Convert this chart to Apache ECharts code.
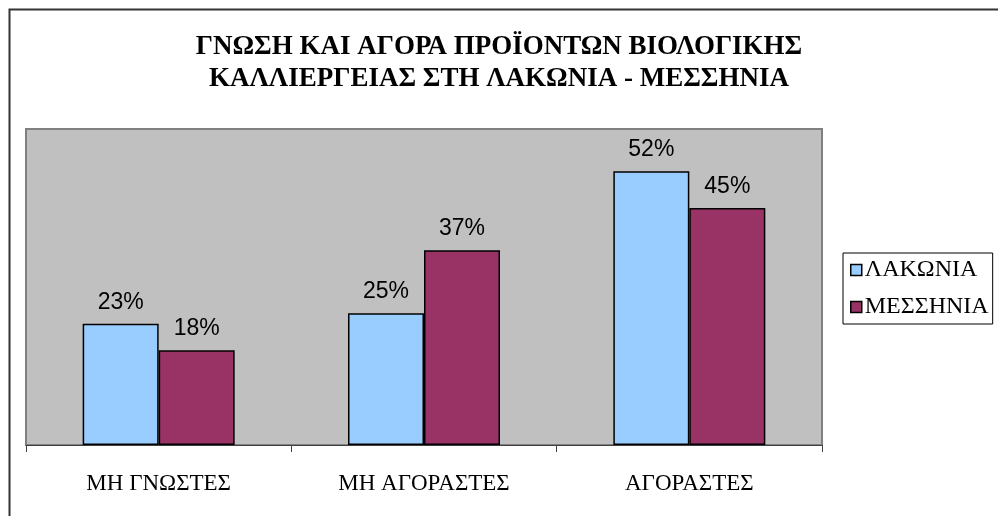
<!DOCTYPE html>
<html>
<head>
<meta charset="utf-8">
<script src="https://cdn.jsdelivr.net/npm/echarts@6/dist/echarts.min.js"></script>
<style>
  html, body { margin: 0; padding: 0; background: #fff; }
  #chart { width: 998px; height: 516px; }
</style>
</head>
<body>
<div id="chart"></div>
<script>
// categories and values (percent)
const categories = ['ΜΗ ΓΝΩΣΤΕΣ', 'ΜΗ ΑΓΟΡΑΣΤΕΣ', 'ΑΓΟΡΑΣΤΕΣ']
const lakonia = [23, 25, 52]
const messinia = [18, 37, 45]
const seriesNames = ['ΛΑΚΩΝΙΑ', 'ΜΕΣΣΗΝΙΑ']

const chart = echarts.init(document.getElementById('chart'))

const serif = 'Liberation Serif, Times New Roman, serif'
const sans = 'Liberation Sans, Arial, sans-serif'

const labelStyle = {
  show: true,
  position: 'top',
  distance: 10,
  formatter: '{c}%',
  fontFamily: sans,
  fontSize: 23,
  color: '#000'
}

const option = {
  animation: false,
  backgroundColor: '#fff',
  title: {
    text: 'ΓΝΩΣΗ ΚΑΙ ΑΓΟΡΑ ΠΡΟΪΟΝΤΩΝ ΒΙΟΛΟΓΙΚΗΣ\nΚΑΛΛΙΕΡΓΕΙΑΣ ΣΤΗ ΛΑΚΩΝΙΑ - ΜΕΣΣΗΝΙΑ',
    left: 'center',
    top: 26,
    textStyle: {
      fontFamily: serif,
      fontWeight: 'bold',
      fontSize: 27,
      lineHeight: 32,
      color: '#000'
    }
  },
  legend: {
    orient: 'vertical',
    left: 843,
    top: 253,
    padding: [5, 4, 5, 7],
    itemGap: 13,
    itemWidth: 11,
    itemHeight: 11,
    borderColor: '#000',
    borderWidth: 1,
    icon: 'rect',
    itemStyle: { borderColor: '#000', borderWidth: 1.5 },
    textStyle: { fontFamily: serif, fontSize: 24, color: '#000', padding: [0, 0, 0, -2] },
    data: seriesNames
  },
  grid: {
    show: true,
    left: 26,
    right: 176,
    top: 129,
    bottom: 71,
    backgroundColor: '#C0C0C0',
    borderColor: '#808080',
    borderWidth: 2
  },
  xAxis: {
    type: 'category',
    data: categories,
    axisLine: { lineStyle: { color: '#404040', width: 1 } },
    axisTick: { show: true, length: 7, lineStyle: { color: '#404040' } },
    axisLabel: {
      fontFamily: serif,
      fontSize: 23,
      color: '#000',
      margin: 27
    }
  },
  yAxis: {
    type: 'value',
    min: 0,
    max: 60,
    show: false,
    splitLine: { show: false }
  },
  series: [
    {
      name: seriesNames[0],
      type: 'bar',
      data: lakonia,
      barWidth: 76,
      barGap: '0%',
      itemStyle: { color: '#99CCFF', borderColor: '#000', borderWidth: 1.5 },
      label: labelStyle
    },
    {
      name: seriesNames[1],
      type: 'bar',
      data: messinia,
      barWidth: 76,
      barGap: '0%',
      itemStyle: { color: '#993366', borderColor: '#000', borderWidth: 1.5 },
      label: labelStyle
    }
  ],
  graphic: [
    {
      type: 'rect',
      left: 7,
      top: 7,
      silent: true,
      shape: { width: 1100, height: 600 },
      style: { fill: 'none', stroke: '#333', lineWidth: 2 }
    }
  ]
}

chart.setOption(option)
</script>
</body>
</html>
